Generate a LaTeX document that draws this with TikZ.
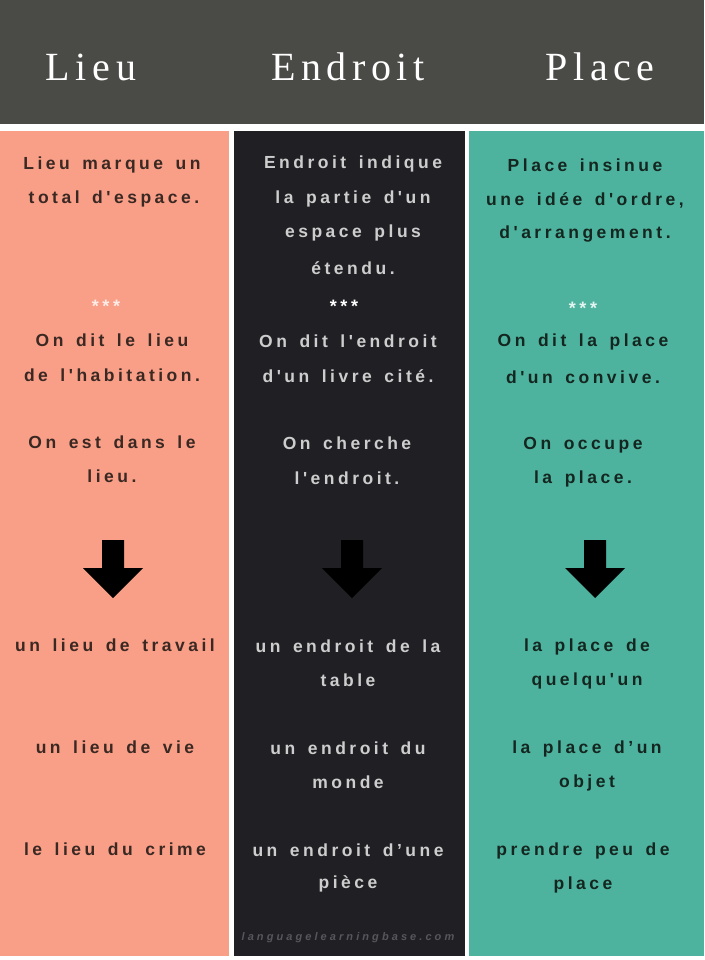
\documentclass[tikz,border=0pt]{standalone}
\usepackage{fontspec}
\newfontfamily\bodyf[LetterSpace=20,WordSpace=1.5]{Liberation Sans}
\newfontfamily\wmf[LetterSpace=28]{Liberation Sans}
\newfontfamily\headf[LetterSpace=14]{Liberation Serif}
\definecolor{headbg}{HTML}{4A4A46}
\definecolor{salmon}{HTML}{F99F88}
\definecolor{darkcol}{HTML}{1F1F24}
\definecolor{teal}{HTML}{4DB39E}
\definecolor{txtL}{HTML}{3A2822}
\definecolor{txtM}{HTML}{CDCDCD}
\definecolor{txtR}{HTML}{14261F}
\definecolor{wmcol}{HTML}{56565C}
\begin{document}
\begin{tikzpicture}[x=1pt,y=-1pt,
  head/.style={text=white,font=\headf\fontsize{40}{40}\selectfont,anchor=center},
  body/.style={font=\bodyf\bfseries\fontsize{17.5}{18}\selectfont,anchor=center,inner sep=0pt},
  stars/.style={font=\bodyf\bfseries\fontsize{18}{18}\selectfont,anchor=center,inner sep=0pt},
  darrow/.style={fill=black,draw=none}]
\fill[white] (0,0) rectangle (704,960);
\useasboundingbox (0,0) rectangle (704,960);
\fill[headbg] (0,0) rectangle (704,124);
\fill[salmon] (0,131) rectangle (229,956);
\fill[darkcol] (234,131) rectangle (465,956);
\fill[teal] (469,131) rectangle (704,956);
% headers
\node[head] (hL) at (91,67) {Lieu};
\node[head] (hM) at (348,67) {Endroit};
\node[head] (hR) at (600,67) {Place};
% left column
\begin{scope}[every node/.append style={text=txtL}]
\node[body] (l1) at (112,165) {Lieu marque un};
\node[body] (l2) at (114,199) {total d'espace.};
\node[stars,text=white!80!salmon] (ls) at (106,306) {***};
\node[body] (l3) at (112,340) {On dit le lieu};
\node[body] (l4) at (112,375) {de l'habitation.};
\node[body] (l5) at (112,442) {On est dans le};
\node[body] (l6) at (112,476) {lieu.};
\node[body] (l7) at (115,645) {un lieu de travail};
\node[body] (l8) at (115,747) {un lieu de vie};
\node[body] (l9) at (115,849) {le lieu du crime};
\end{scope}
% middle column
\begin{scope}[every node/.append style={text=txtM}]
\node[body] (m1) at (353,164) {Endroit indique};
\node[body] (m2) at (353,199) {la partie d'un};
\node[body] (m3) at (353,233) {espace plus};
\node[body] (m4) at (353,268) {étendu.};
\node[stars,text=white] (ms) at (344,306) {***};
\node[body] (m5) at (348,341) {On dit l'endroit};
\node[body] (m6) at (348,376) {d'un livre cité.};
\node[body] (m7) at (347,443) {On cherche};
\node[body] (m8) at (347,478) {l'endroit.};
\node[body] (m9) at (348,646) {un endroit de la};
\node[body] (m10) at (348,680) {table};
\node[body] (m11) at (348,748) {un endroit du};
\node[body] (m12) at (348,782) {monde};
\node[body] (m13) at (348,850) {un endroit d’une};
\node[body] (m14) at (348,884) {pièce};
\node[font=\wmf\bfseries\itshape\fontsize{11}{12}\selectfont,text=wmcol,inner sep=0pt] (wm) at (348,938) {languagelearningbase.com};
\end{scope}
% right column
\begin{scope}[every node/.append style={text=txtR}]
\node[body] (r1) at (585,165) {Place insinue};
\node[body] (r2) at (585,200) {une idée d'ordre,};
\node[body] (r3) at (585,234) {d'arrangement.};
\node[stars,text=white!85!teal] (rs) at (583,308) {***};
\node[body] (r4) at (583,342) {On dit la place};
\node[body] (r5) at (583,377) {d'un convive.};
\node[body] (r6) at (583,445) {On occupe};
\node[body] (r7) at (583,479) {la place.};
\node[body] (r8) at (587,647) {la place de};
\node[body] (r9) at (587,681) {quelqu'un};
\node[body] (r10) at (587,749) {la place d’un};
\node[body] (r11) at (587,783) {objet};
\node[body] (r12) at (583,851) {prendre peu de};
\node[body] (r13) at (583,885) {place};
\end{scope}
% arrows
\foreach \cx in {113,352,595}{
  \fill[darrow] (\cx-11,540) -- (\cx+11,540) -- (\cx+11,568) -- (\cx+30,568)
    -- (\cx,598) -- (\cx-30,568) -- (\cx-11,568) -- cycle;
}
\end{tikzpicture}
\end{document}
